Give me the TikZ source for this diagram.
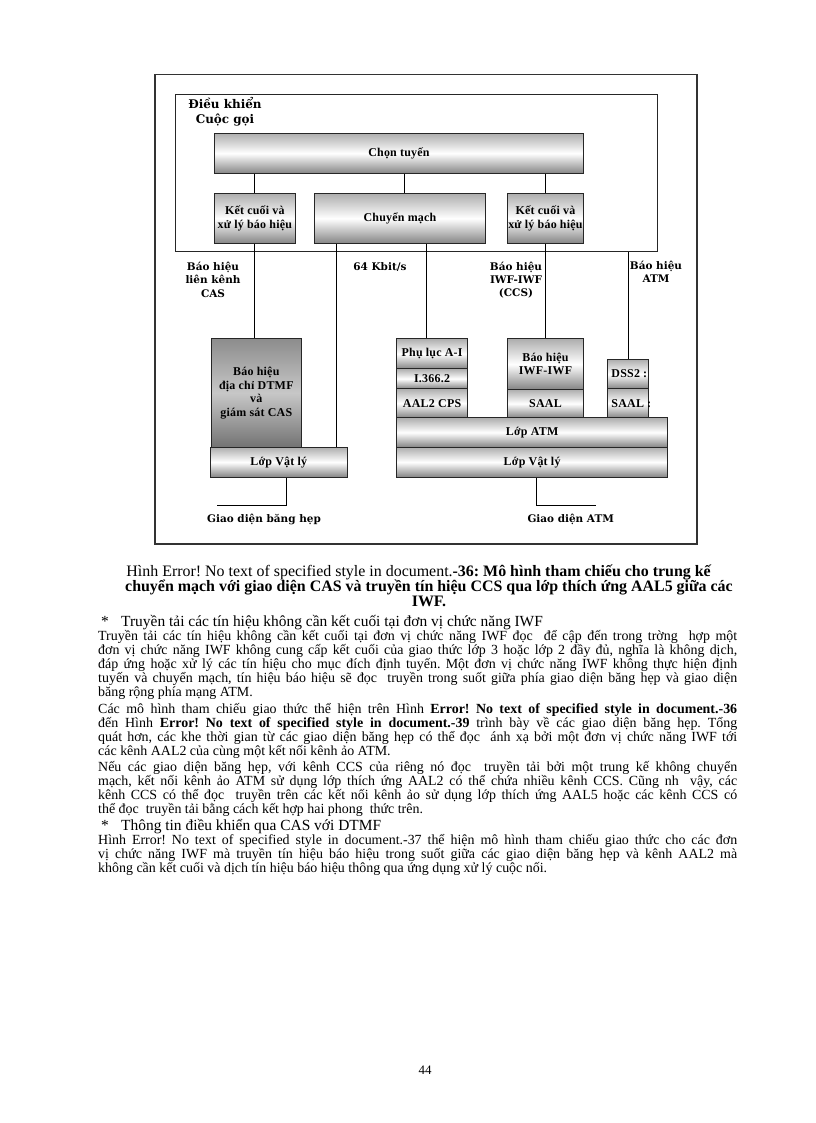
\documentclass[tikz,border=0pt]{standalone}
\usepackage{fontspec}
\setmainfont{Liberation Serif}
\newfontfamily\lblfam{DejaVu Serif}
\usepackage{graphicx}
\frenchspacing
\newsavebox\jbox
\newcommand\jline[1]{\sbox\jbox{#1}\ifdim\wd\jbox>639bp\relax\resizebox{639bp}{\height}{\usebox\jbox}\else\makebox[639bp][s]{#1}\fi}
\tikzset{
  box/.style={draw=black!85, line width=0.9bp, top color=black!32, bottom color=black!48, middle color=white,
    font=\bfseries\fontsize{12}{13.5}\selectfont\addfontfeature{LetterSpace=2}, align=center, inner sep=0pt, anchor=north west},
  darkbox/.style={box, top color=black!45, bottom color=black!55, middle color=black!22},
  boxtext/.style={font=\bfseries\fontsize{12}{13.5}\selectfont\addfontfeature{LetterSpace=2}, inner sep=0pt},
  lbl/.style={font=\lblfam\bfseries\fontsize{10.5}{13.3}\selectfont, align=center, inner sep=0pt},
  ttl/.style={font=\lblfam\bfseries\fontsize{12}{14}\selectfont, inner sep=0pt, anchor=base},
  wire/.style={draw=black, line width=0.8bp},
  body/.style={anchor=base west, inner sep=0pt, font=\fontsize{14}{14}\selectfont},
  head/.style={anchor=base west, inner sep=0pt, font=\fontsize{15.5}{15}\selectfont},
  capt/.style={anchor=base, inner sep=0pt, font=\fontsize{16}{15}\selectfont},
}
\begin{document}
\begin{tikzpicture}[x=1bp,y=-1bp]
\useasboundingbox[fill=white] (0,0) rectangle (816,1123);

% outer frame
\draw[black!80, line width=1.3bp] (155,74.5) rectangle (697,544);

% control block
\node[draw=black!85, line width=1bp, minimum width=481.5bp, minimum height=157bp, anchor=north west, inner sep=0pt] (inner) at (175,94) {};
\node[ttl] (t1) at (225,108) {Điều khiển};
\node[ttl] (t2) at (225,123.5) {Cuộc gọi};

\node[box, minimum width=368.4bp, minimum height=40.3bp] (choose) at (214.3,132.7) {Chọn tuyến};
\node[box, minimum width=80.2bp, minimum height=50bp] (kcl) at (214.3,193) {Kết cuối và\\xử lý báo hiệu};
\node[box, minimum width=171bp, minimum height=50bp] (cm) at (314,193) {Chuyển mạch};
\node[box, minimum width=75.4bp, minimum height=50bp] (kcr) at (507.3,193) {Kết cuối và\\xử lý báo hiệu};

\coordinate (xc) at (404.5,0);
\draw[wire] (choose.south -| kcl.north) -- (kcl.north);
\draw[wire] (choose.south -| xc) -- (cm.north -| xc);
\draw[wire] (choose.south -| kcr.north) -- (kcr.north);

% lower stacks
\node[darkbox, minimum width=89.7bp, minimum height=108.4bp] (dtmf) at (211,338.3) {Báo hiệu\\địa chỉ DTMF\\và\\giám sát CAS};
\node[box, minimum width=136.7bp, minimum height=30bp] (lvl1) at (210,446.7) {Lớp Vật lý};

\node[box, minimum width=71.3bp, minimum height=30bp] (phuluc) at (396,338.3) {Phụ lục A-I};
\node[box, minimum width=71.3bp, minimum height=20bp] (i366) at (396,368.3) {I.366.2};
\node[box, minimum width=71.3bp, minimum height=29bp] (aal2) at (396,388.3) {AAL2 CPS};
\node[box, minimum width=75.4bp, minimum height=50.7bp] (iwf) at (507.3,338.3) {Báo hiệu\\IWF-IWF};
\node[box, minimum width=75.4bp, minimum height=28.3bp] (saal1) at (507.3,389) {SAAL};
\node[box, minimum width=41.6bp, minimum height=29.3bp] (dss2) at (606.7,359) {};
\node[box, minimum width=41.6bp, minimum height=29bp] (saal2) at (606.7,388.3) {};
\begin{scope}
\clip (dss2.north west) rectangle (saal2.south east);
\node[boxtext, anchor=west] (dss2t) at ([xshift=4.5bp]dss2.west) {DSS2 :};
\node[boxtext, anchor=west] (saal2t) at ([xshift=4.5bp]saal2.west) {SAAL :};
\end{scope}
\node[box, minimum width=271.3bp, minimum height=29.4bp] (atm) at (396,417.3) {Lớp ATM};
\node[box, minimum width=271.3bp, minimum height=30bp] (lvl2) at (396,446.7) {Lớp Vật lý};

\coordinate (xa) at (336.7,0);
\coordinate (xb) at (426.7,0);
\draw[wire] (kcl.south) -- (kcl.south |- dtmf.north);
\draw[wire] (cm.south -| xa) -- (lvl1.north -| xa);
\draw[wire] (cm.south -| xb) -- (phuluc.north -| xb);
\draw[wire] (kcr.south) -- (iwf.north);
\draw[wire] (inner.south -| dss2.north) -- (dss2.north);

\coordinate (xl) at (286.7,0);
\coordinate (xr) at (536.7,0);
\coordinate (gbl) at (216.7,505.7);
\coordinate (gbr) at (596.4,505.7);
\draw[wire] (lvl1.south -| xl) |- (gbl);
\draw[wire] (lvl2.south -| xr) |- (gbr);

% labels
\node[lbl] (lcas) at (213,279.7) {Báo hiệu\\liên kênh\\CAS};
\node[lbl, anchor=base] (l64) at (380,270.5) {64 Kbit/s};
\node[lbl] (liwf) at (516,280) {Báo hiệu\\IWF-IWF\\(CCS)};
\node[lbl] (latm) at (656,271.7) {Báo hiệu\\ATM};
\node[lbl, anchor=base] (gnb) at (264,522.5) {Giao diện băng hẹp};
\node[lbl, anchor=base] (gatm) at (570.7,522.5) {Giao diện ATM};

% caption
\node[capt] (c1) at (419,576.5) {Hình Error! No text of specified style in document.\textbf{-36: Mô hình tham chiếu cho trung kế}};
\node[capt] (c2) at (429,591.5) {\textbf{chuyển mạch với giao diện CAS và truyền tín hiệu CCS qua lớp thích ứng AAL5 giữa các}};
\node[capt] (c3) at (429,606.5) {\textbf{IWF.}};

% section 1
\node[head] (h1s) at (101,626) {*};
\node[head] (h1) at (121,626) {Truyền tải các tín hiệu không cần kết cuối tại đơn vị chức năng IWF};
\node[body] (p1a) at (98,640) {\jline{Truyền tải các tín hiệu không cần kết cuối tại đơn vị chức năng IWF đọc\ \ để cập đến trong trờng\ \ hợp một}};
\node[body] (p1b) at (98,654) {\jline{đơn vị chức năng IWF không cung cấp kết cuối của giao thức lớp 3 hoặc lớp 2 đầy đủ, nghĩa là không dịch,}};
\node[body] (p1c) at (98,668) {\jline{đáp ứng hoặc xử lý các tín hiệu cho mục đích định tuyến. Một đơn vị chức năng IWF không thực hiện định}};
\node[body] (p1d) at (98,682) {\jline{tuyến và chuyển mạch, tín hiệu báo hiệu sẽ đọc\ \ truyền trong suốt giữa phía giao diện băng hẹp và giao diện}};
\node[body] (p1e) at (98,696) {băng rộng phía mạng ATM.};

\node[body] (p2a) at (98,713) {\jline{Các mô hình tham chiếu giao thức thể hiện trên Hình \textbf{Error! No text of specified style in document.-36}}};
\node[body] (p2b) at (98,727) {\jline{đến Hình \textbf{Error! No text of specified style in document.-39} trình bày về các giao diện băng hẹp. Tổng}};
\node[body] (p2c) at (98,741) {\jline{quát hơn, các khe thời gian từ các giao diện băng hẹp có thể đọc\ \ ánh xạ bởi một đơn vị chức năng IWF tới}};
\node[body] (p2d) at (98,755) {các kênh AAL2 của cùng một kết nối kênh ảo ATM.};

\node[body] (p3a) at (98,771) {\jline{Nếu các giao diện băng hẹp, với kênh CCS của riêng nó đọc\ \ truyền tải bởi một trung kế không chuyển}};
\node[body] (p3b) at (98,785) {\jline{mạch, kết nối kênh ảo ATM sử dụng lớp thích ứng AAL2 có thể chứa nhiều kênh CCS. Cũng nh\ \ vậy, các}};
\node[body] (p3c) at (98,799) {\jline{kênh CCS có thể đọc\ \ truyền trên các kết nối kênh ảo sử dụng lớp thích ứng AAL5 hoặc các kênh CCS có}};
\node[body] (p3d) at (98,813) {thể đọc\ \ truyền tải bằng cách kết hợp hai phong\ \ thức trên.};

% section 2
\node[head] (h2s) at (101,830) {*};
\node[head] (h2) at (121,830) {Thông tin điều khiển qua CAS với DTMF};
\node[body] (p4a) at (98,844) {\jline{Hình Error! No text of specified style in document.-37 thể hiện mô hình tham chiếu giao thức cho các đơn}};
\node[body] (p4b) at (98,858) {\jline{vị chức năng IWF mà truyền tín hiệu báo hiệu trong suốt giữa các giao diện băng hẹp và kênh AAL2 mà}};
\node[body] (p4c) at (98,872) {không cần kết cuối và dịch tín hiệu báo hiệu thông qua ứng dụng xử lý cuộc nối.};

\node[anchor=base, inner sep=0pt, font=\fontsize{13}{14}\selectfont] (pg) at (425,1074) {44};
\end{tikzpicture}
\end{document}
